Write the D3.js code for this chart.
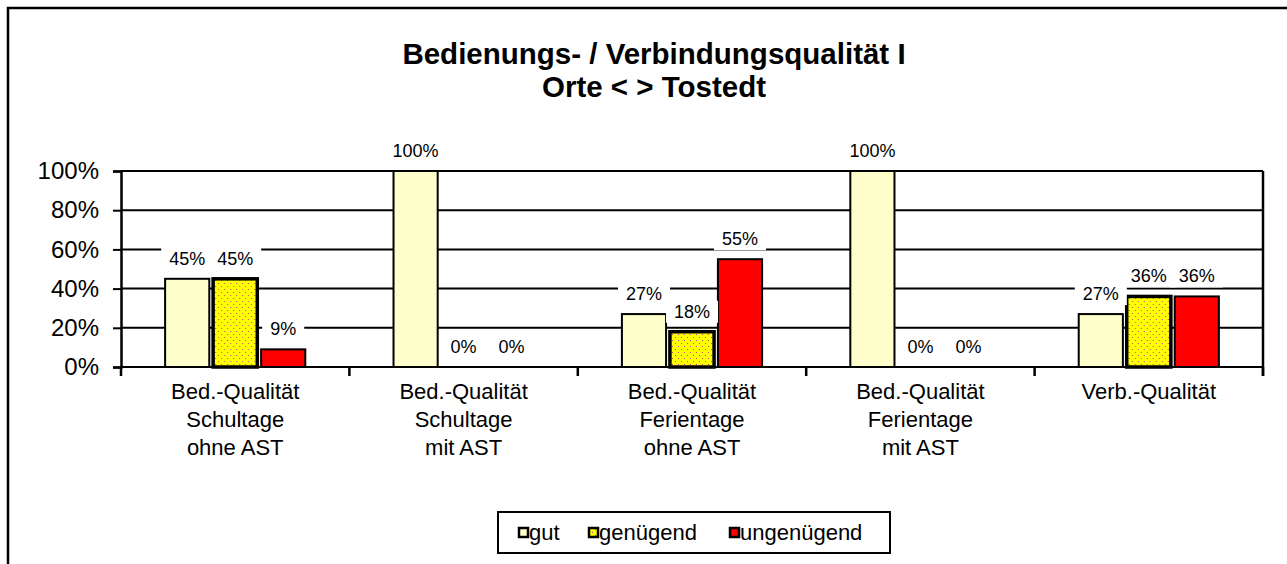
<!DOCTYPE html>
<html>
<head>
<meta charset="utf-8">
<script src="https://cdn.jsdelivr.net/npm/d3@7"></script>
<style>
  html, body { margin: 0; padding: 0; background: #fff; }
  svg { display: block; font-family: "Liberation Sans", Arial, sans-serif; }
</style>
</head>
<body>
<svg id="chart" width="1287" height="564"></svg>
<script>
// Categories (multi-line axis labels) and series
const categories = [
  ["Bed.-Qualität", "Schultage", "ohne AST"],
  ["Bed.-Qualität", "Schultage", "mit AST"],
  ["Bed.-Qualität", "Ferientage", "ohne AST"],
  ["Bed.-Qualität", "Ferientage", "mit AST"],
  ["Verb.-Qualität"]
];
const seriesNames = ["gut", "genügend", "ungenügend"];
const gut        = [45, 100, 27, 100, 27];
const genuegend  = [45, 0, 18, 0, 36];
const ungenuegend = [9, 0, 55, 0, 36];
const yTicks = [0, 20, 40, 60, 80, 100];
const titleLines = ["Bedienungs- / Verbindungsqualität I", "Orte < > Tostedt"];

(function draw() {
  const seriesValues = [gut, genuegend, ungenuegend];
  const fills = ["#FFFFCC", "url(#dots)", "#FF0000"];
  const strokeW = [2, 3.5, 2];

  const svg = d3.select("#chart");

  // dotted fill for the "genügend" series
  const defs = svg.append("defs");
  const pat = defs.append("pattern")
    .attr("id", "dots").attr("patternUnits", "userSpaceOnUse")
    .attr("width", 6).attr("height", 6);
  pat.append("rect").attr("width", 6).attr("height", 6).attr("fill", "#FFFF00");
  pat.append("rect").attr("x", 1).attr("y", 1).attr("width", 1).attr("height", 1).attr("fill", "#D04080");
  pat.append("rect").attr("x", 4).attr("y", 4).attr("width", 1).attr("height", 1).attr("fill", "#D04080");

  // chart area frame (runs past the right and bottom edges)
  svg.append("rect")
    .attr("x", 8).attr("y", 8).attr("width", 1300).attr("height", 600)
    .attr("fill", "none").attr("stroke", "#000").attr("stroke-width", 2.5);

  // title
  const title = svg.append("text")
    .attr("text-anchor", "middle").attr("font-weight", "bold")
    .attr("font-size", 29.5).attr("fill", "#000");
  titleLines.forEach((t, i) => {
    title.append("tspan").attr("x", 654).attr("y", 64 + i * 33).text(t);
  });

  const pLeft = 121, pRight = 1263, pTop = 171, pBottom = 367;
  const catIdx = categories.map((d, i) => i);
  const x0 = d3.scaleBand().domain(catIdx).range([pLeft, pRight]).padding(0);
  const x1 = d3.scaleBand().domain(seriesNames).range([-72, 72]).paddingInner(0.08).paddingOuter(0.04);
  const y = d3.scaleLinear().domain([0, 100]).range([pBottom, pTop]);

  // gridlines
  svg.append("g").selectAll("line").data(yTicks).join("line")
    .attr("x1", pLeft).attr("x2", pRight)
    .attr("y1", d => y(d)).attr("y2", d => y(d))
    .attr("stroke", "#000").attr("stroke-width", 2);

  // y axis
  const yAxis = d3.axisLeft(y).tickValues(yTicks).tickSize(8).tickPadding(14)
    .tickFormat(d => d + "%");
  const gy = svg.append("g").attr("transform", `translate(${pLeft},0)`).call(yAxis);
  gy.select(".domain").attr("stroke", "#000").attr("stroke-width", 2.5);
  gy.selectAll(".tick line").attr("stroke", "#000").attr("stroke-width", 2);
  gy.selectAll(".tick text").attr("font-size", 24).attr("fill", "#000")
    .attr("font-family", "Liberation Sans, Arial, sans-serif");

  // right plot border
  svg.append("line").attr("x1", pRight).attr("x2", pRight)
    .attr("y1", pTop).attr("y2", pBottom + 9)
    .attr("stroke", "#000").attr("stroke-width", 2.5);

  // category boundary ticks
  const bounds = catIdx.map(i => x0(i)).concat([pRight]);
  svg.append("g").selectAll("line").data(bounds).join("line")
    .attr("x1", d => d).attr("x2", d => d)
    .attr("y1", pBottom).attr("y2", pBottom + 9)
    .attr("stroke", "#000").attr("stroke-width", 2.5);

  // bars
  const groups = svg.append("g").selectAll("g").data(catIdx).join("g")
    .attr("transform", i => `translate(${x0(i) + x0.bandwidth() / 2},0)`);

  const barData = i => seriesNames.map((s, k) => ({ s, k, v: seriesValues[k][i] }));

  groups.selectAll("rect.bar").data(barData).join("rect")
    .attr("class", "bar")
    .attr("x", d => x1(d.s)).attr("width", x1.bandwidth())
    .attr("y", d => y(d.v)).attr("height", d => y(0) - y(d.v))
    .attr("fill", d => fills[d.k])
    .attr("stroke", d => d.v > 0 ? "#000" : "none")
    .attr("stroke-width", d => strokeW[d.k]);

  // value labels on white boxes
  const lab = groups.selectAll("g.lab").data(barData).join("g")
    .attr("class", "lab")
    .attr("transform", d => `translate(${x1(d.s) + x1.bandwidth() / 2},${y(d.v) - 14})`);
  const boxes = lab.append("rect").attr("fill", "#fff");
  const labText = lab.append("text")
    .attr("text-anchor", "middle").attr("font-size", 18).attr("fill", "#000")
    .text(d => d.v + "%");
  labText.each(function () {
    const w = this.getComputedTextLength();
    d3.select(this.previousSibling)
      .attr("x", -w / 2 - 8).attr("width", w + 16)
      .attr("y", -17).attr("height", 22);
  });

  // category labels
  groups.append("text")
    .attr("text-anchor", "middle").attr("font-size", 22).attr("fill", "#000")
    .selectAll("tspan").data(i => categories[i]).join("tspan")
    .attr("x", 0).attr("y", (d, j) => 399 + j * 28)
    .text(d => d);

  // legend
  const lg = svg.append("g");
  lg.append("rect").attr("x", 498).attr("y", 512).attr("width", 392).attr("height", 41)
    .attr("fill", "#fff").attr("stroke", "#000").attr("stroke-width", 2);
  const legX = [519, 589, 730];
  seriesNames.forEach((s, k) => {
    lg.append("rect").attr("x", legX[k]).attr("y", 528).attr("width", 9).attr("height", 9)
      .attr("fill", fills[k]).attr("stroke", "#000").attr("stroke-width", 2.5);
    lg.append("text").attr("x", legX[k] + 10).attr("y", 540)
      .attr("font-size", 22).attr("fill", "#000").text(s);
  });
})();
</script>
</body>
</html>
